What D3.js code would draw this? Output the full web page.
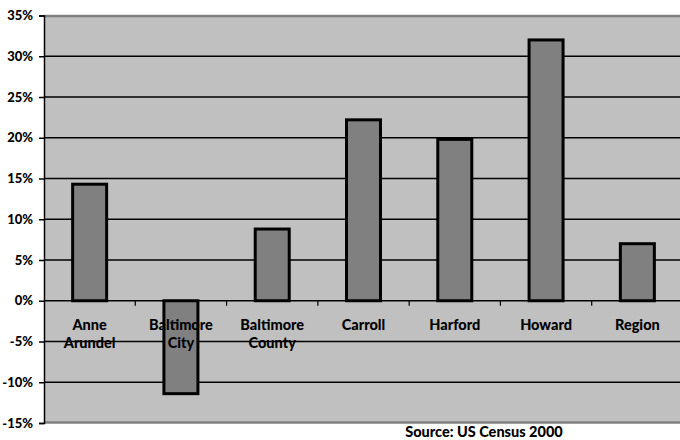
<!DOCTYPE html>
<html>
<head>
<meta charset="utf-8">
<script src="https://cdn.jsdelivr.net/npm/d3@7/dist/d3.min.js"></script>
<style>
  html, body { margin: 0; padding: 0; background: #fff; }
  svg text { font-family: Lato, "DejaVu Sans", sans-serif; font-weight: 900; fill: #000; }
</style>
</head>
<body>
<svg id="chart" width="680" height="440"></svg>
<script>
// categorias e valores (% de variação)
var categories = [['Anne', 'Arundel'], ['Baltimore', 'City'], ['Baltimore', 'County'],
                  ['Carroll'], ['Harford'], ['Howard'], ['Region']];
var values = [14.3, -11.4, 8.8, 22.2, 19.8, 32.0, 7.0];
var yTicks = [-15, -10, -5, 0, 5, 10, 15, 20, 25, 30, 35];
var source = 'Source: US Census 2000';

var W = 680, H = 440;
var m = { left: 44, right: -3, top: 15.5, bottom: 17 };
var FONT = 'Lato, "DejaVu Sans", sans-serif';
var svg = d3.select('#chart');

var x = d3.scaleBand()
  .domain(d3.range(categories.length))
  .range([m.left, W - m.right])
  .paddingInner(0).paddingOuter(0);

var y = d3.scaleLinear().domain([-15, 35]).range([H - m.bottom, m.top]);

/* --- fundo da área do gráfico --- */
svg.append('rect')
  .attr('x', m.left).attr('y', y(35))
  .attr('width', W - m.right - m.left).attr('height', y(-15) - y(35))
  .attr('fill', '#c0c0c0');

/* borda cinza topo / base */
svg.append('line').attr('x1', m.left).attr('x2', W).attr('y1', y(35) + 0.5).attr('y2', y(35) + 0.5)
  .attr('stroke', '#808080').attr('stroke-width', 2.5);
svg.append('line').attr('x1', m.left).attr('x2', W).attr('y1', y(-15) - 0.5).attr('y2', y(-15) - 0.5)
  .attr('stroke', '#808080').attr('stroke-width', 2.5);

/* --- linhas de grade --- */
svg.append('g').selectAll('line')
  .data(yTicks.filter(function (t) { return t > -15 && t < 35; }))
  .join('line')
  .attr('x1', m.left).attr('x2', W)
  .attr('y1', function (d) { return y(d); }).attr('y2', function (d) { return y(d); })
  .attr('stroke', '#000').attr('stroke-width', 1.5);

/* --- eixo y --- */
var yAxis = svg.append('g')
  .attr('transform', 'translate(' + m.left + ',0)')
  .call(d3.axisLeft(y).tickValues(yTicks).tickSize(5).tickPadding(6)
    .tickFormat(function (d) { return d + '%'; }));
yAxis.select('.domain').attr('stroke', '#000').attr('stroke-width', 1.5);
yAxis.selectAll('.tick line').attr('stroke', '#000').attr('stroke-width', 1.5);
yAxis.selectAll('.tick text')
  .attr('font-size', 13).attr('font-family', FONT)
  .attr('font-weight', 900).attr('fill', '#000');

/* --- barras --- */
var bw = 34;
svg.append('g').selectAll('rect')
  .data(values).join('rect')
  .attr('x', function (d, i) { return x(i) + x.bandwidth() / 2 - bw / 2; })
  .attr('y', function (d) { return y(Math.max(0, d)); })
  .attr('width', bw)
  .attr('height', function (d) { return Math.abs(y(d) - y(0)); })
  .attr('fill', '#808080')
  .attr('stroke', '#000').attr('stroke-width', 3);

/* --- ticks de categoria no zero --- */
svg.append('g').selectAll('line')
  .data(d3.range(1, categories.length))
  .join('line')
  .attr('x1', function (i) { return x(i); }).attr('x2', function (i) { return x(i); })
  .attr('y1', y(0)).attr('y2', y(0) + 5)
  .attr('stroke', '#000').attr('stroke-width', 1.2);

/* --- rótulos de categoria --- */
var lab = svg.append('g').selectAll('text')
  .data(categories).join('text')
  .attr('text-anchor', 'middle')
  .attr('font-size', 14.5)
  .attr('x', function (d, i) { return x(i) + x.bandwidth() / 2; })
  .attr('y', y(0) + 29);
lab.selectAll('tspan')
  .data(function (d) { return d; }).join('tspan')
  .attr('x', function () { return this.parentNode.getAttribute('x'); })
  .attr('dy', function (d, i) { return i ? 18 : 0; })
  .text(function (d) { return d; });

/* --- fonte --- */
svg.append('text')
  .attr('x', 484).attr('y', 437)
  .attr('text-anchor', 'middle').attr('font-size', 14.5)
  .text(source);
</script>
</body>
</html>
